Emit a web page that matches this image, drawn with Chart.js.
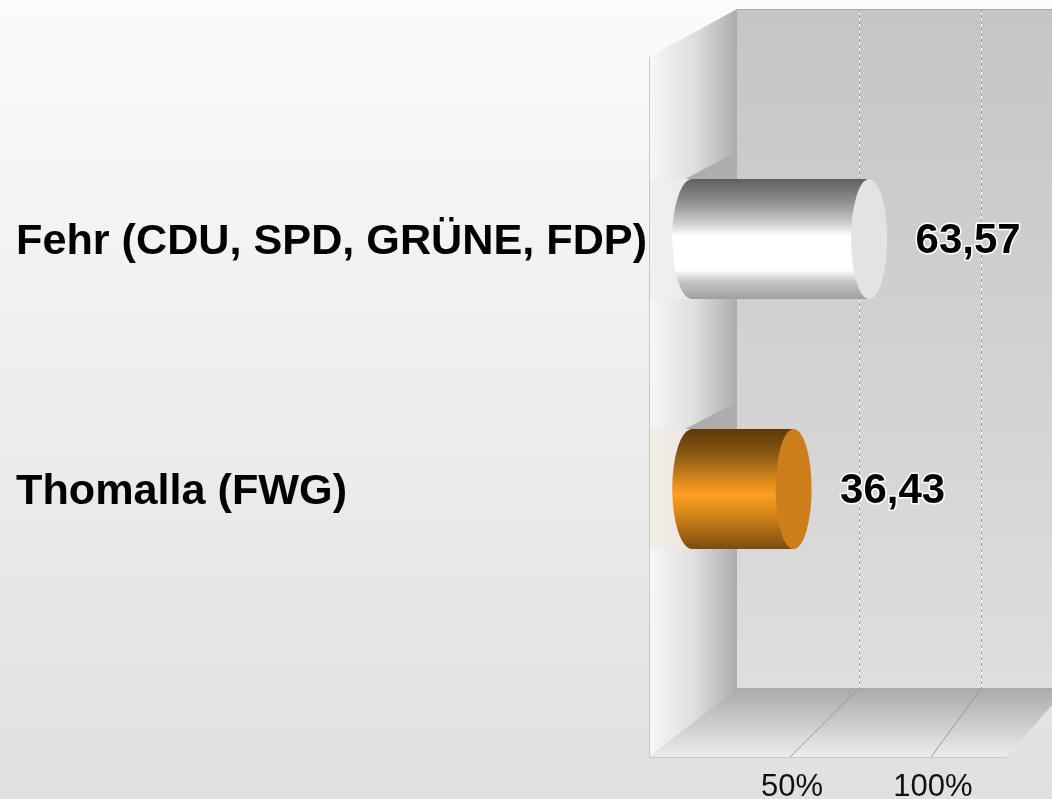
<!DOCTYPE html>
<html>
<head>
<meta charset="utf-8">
<script src="https://cdn.jsdelivr.net/npm/chart.js@4"></script>
<style>
html, body { margin: 0; padding: 0; background: #e6e6e6; overflow: hidden; }
canvas { display: block; }
</style>
</head>
<body>
<canvas id="grafica" width="1052" height="799"></canvas>
<script>
const categories = ['Fehr (CDU, SPD, GRÜNE, FDP)', 'Thomalla (FWG)'];
const values = [63.57, 36.43];
const tickLabels = [50, 100];

const barHeight = 120;
const capWidth = 18;
const labelGap = 99;

const cylinderStops = [
    [[0, '#5f5f5f'], [0.2, '#929292'], [0.38, '#d2d2d2'], [0.47, '#ffffff'], [0.76, '#ffffff'], [0.86, '#c4c4c4'], [1, '#a0a0a0']],
    [[0, '#5c390b'], [0.22, '#8c5a12'], [0.45, '#e08d1d'], [0.55, '#ff9d22'], [0.7, '#d98819'], [1, '#7a4c0e']]
];
const capColors = ['#e3e3e3', '#cd7e1a'];
const sideBands = ['rgba(238,238,238,0.7)', 'rgba(240,232,224,0.7)'];

function barGradient(chart, i) {
    const mid = chart.scales.y ? chart.scales.y.getPixelForValue(i) : NaN;
    if (!isFinite(mid)) return '#999999';
    const g = chart.ctx.createLinearGradient(0, mid - barHeight / 2, 0, mid + barHeight / 2);
    cylinderStops[i].forEach(s => g.addColorStop(s[0], s[1]));
    return g;
}

function poly(ctx, pts, fill) {
    ctx.beginPath();
    pts.forEach((p, i) => i ? ctx.lineTo(p[0], p[1]) : ctx.moveTo(p[0], p[1]));
    ctx.closePath();
    ctx.fillStyle = fill;
    ctx.fill();
}

// room behind the bars: page, back wall, side wall, floor
const room = {
    id: 'room',
    beforeDraw(chart) {
        const ctx = chart.ctx;
        const front = chart.scales.xFront;
        const back = chart.scales.xBack;
        const y = chart.scales.y;
        const f0 = front.getPixelForValue(0);
        const b0 = back.getPixelForValue(0);
        ctx.save();

        let g = ctx.createLinearGradient(0, 0, 0, 799);
        g.addColorStop(0, '#fbfbfb');
        g.addColorStop(1, '#e0e0e0');
        ctx.fillStyle = g;
        ctx.fillRect(0, 0, 1052, 799);

        g = ctx.createLinearGradient(0, 9, 0, 688);
        g.addColorStop(0, '#c5c5c5');
        g.addColorStop(1, '#dedede');
        ctx.fillStyle = g;
        ctx.fillRect(b0, 9, 1052 - b0, 679);
        ctx.fillStyle = '#ababab';
        ctx.fillRect(b0, 9, 1052 - b0, 1);

        g = ctx.createLinearGradient(f0, 0, b0, 0);
        g.addColorStop(0, '#f7f7f7');
        g.addColorStop(0.5, '#e0e0e0');
        g.addColorStop(1, '#adadad');
        poly(ctx, [[f0, 57], [b0, 9], [b0, 688], [f0, 757]], g);

        g = ctx.createLinearGradient(0, 688, 0, 757);
        g.addColorStop(0, '#aaaaaa');
        g.addColorStop(1, '#ececec');
        poly(ctx, [[f0, 757], [b0, 688], [1052, 688], [1052, 705], [1007, 757]], g);

        ctx.strokeStyle = '#c8c8c8';
        ctx.lineWidth = 1;
        ctx.beginPath();
        ctx.moveTo(f0 + 0.5, 57);
        ctx.lineTo(f0 + 0.5, 757.5);
        ctx.lineTo(1007, 757.5);
        ctx.stroke();

        tickLabels.forEach(t => {
            const xb = Math.round(back.getPixelForValue(t)) + 0.5;
            const xf = front.getPixelForValue(t);
            ctx.strokeStyle = '#ffffff';
            ctx.setLineDash([]);
            ctx.beginPath();
            ctx.moveTo(xb, 9);
            ctx.lineTo(xb, 688);
            ctx.stroke();
            ctx.strokeStyle = '#a0a0a0';
            ctx.setLineDash([3, 3]);
            ctx.beginPath();
            ctx.moveTo(xb, 9);
            ctx.lineTo(xb, 688);
            ctx.stroke();
            ctx.setLineDash([]);
            ctx.strokeStyle = '#9a9a9a';
            ctx.beginPath();
            ctx.moveTo(xb, 688);
            ctx.lineTo(xf, 757);
            ctx.stroke();
        });

        // shadow of each bar on the side wall
        values.forEach((v, i) => {
            const mid = y.getPixelForValue(i);
            const top = mid - barHeight / 2;
            ctx.fillStyle = sideBands[i];
            ctx.fillRect(f0 + 1, top, b0 - f0 - 1, barHeight);
            poly(ctx, [[685, top], [b0, top - 27], [b0, top]], '#adadad');
        });
        ctx.restore();
    },
    afterDatasetsDraw(chart) {
        const ctx = chart.ctx;
        const bars = chart.getDatasetMeta(0).data;
        ctx.save();
        bars.forEach((bar, i) => {
            ctx.fillStyle = barGradient(chart, i);
            ctx.beginPath();
            ctx.ellipse(bar.base, bar.y, capWidth + 2, barHeight / 2, 0, Math.PI / 2, Math.PI * 1.5);
            ctx.fill();
            ctx.fillRect(bar.base - 1, bar.y - barHeight / 2, 2, barHeight);

            ctx.beginPath();
            ctx.ellipse(bar.x, bar.y, capWidth, barHeight / 2, 0, 0, Math.PI * 2);
            ctx.fillStyle = capColors[i];
            ctx.fill();

            const text = values[i].toFixed(2).replace('.', ',');
            ctx.font = 'bold 42px "Liberation Sans", Arial, sans-serif';
            ctx.textAlign = 'center';
            ctx.textBaseline = 'middle';
            ctx.lineJoin = 'round';
            ctx.lineWidth = 3;
            ctx.strokeStyle = '#ffffff';
            ctx.strokeText(text, bar.x + labelGap, bar.y + 2);
            ctx.fillStyle = '#000000';
            ctx.fillText(text, bar.x + labelGap, bar.y + 2);
        });
        ctx.restore();
    }
};

new Chart(document.querySelector('#grafica'), {
    type: 'bar',
    plugins: [room],
    data: {
        labels: categories,
        datasets: [{
            data: values,
            xAxisID: 'x',
            backgroundColor: c => c.dataIndex === undefined ? '#999999' : barGradient(c.chart, c.dataIndex),
            borderWidth: 0,
            categoryPercentage: 0.48,
            barPercentage: 1
        }]
    },
    options: {
        indexAxis: 'y',
        responsive: false,
        animation: false,
        layout: { padding: { top: 114, left: 16, right: 0, bottom: 0 } },
        plugins: { legend: { display: false }, tooltip: { enabled: false } },
        scales: {
            y: {
                afterFit: s => { s.width = 633; },
                grid: { display: false },
                border: { display: false },
                ticks: {
                    crossAlign: 'far',
                    labelOffset: 3,
                    color: '#000000',
                    font: { family: '"Liberation Sans", Arial, sans-serif', size: 43.2, weight: 'bold' }
                }
            },
            // cylinders, front edge of the floor and back wall each have their own depth
            x: { display: false, type: 'linear', min: -15.53, max: 129.3 },
            xBack: { display: false, type: 'linear', position: 'bottom', min: -36.07, max: 129.1 },
            xFront: {
                type: 'linear',
                position: 'bottom',
                min: 0,
                max: 142.9,
                // the big tick padding would otherwise squeeze the chart area sideways
                afterFit: s => { s.height = 185; s.paddingLeft = 0; s.paddingRight = 0; },
                grid: { display: false },
                border: { display: false },
                afterBuildTicks: s => { s.ticks = tickLabels.map(v => ({ value: v })); },
                ticks: {
                    callback: v => v + '%',
                    maxRotation: 0,
                    autoSkip: false,
                    labelOffset: 2,
                    padding: 147,
                    color: '#111111',
                    font: { family: '"Liberation Sans", Arial, sans-serif', size: 31 }
                }
            }
        }
    }
});
</script>
</body>
</html>
